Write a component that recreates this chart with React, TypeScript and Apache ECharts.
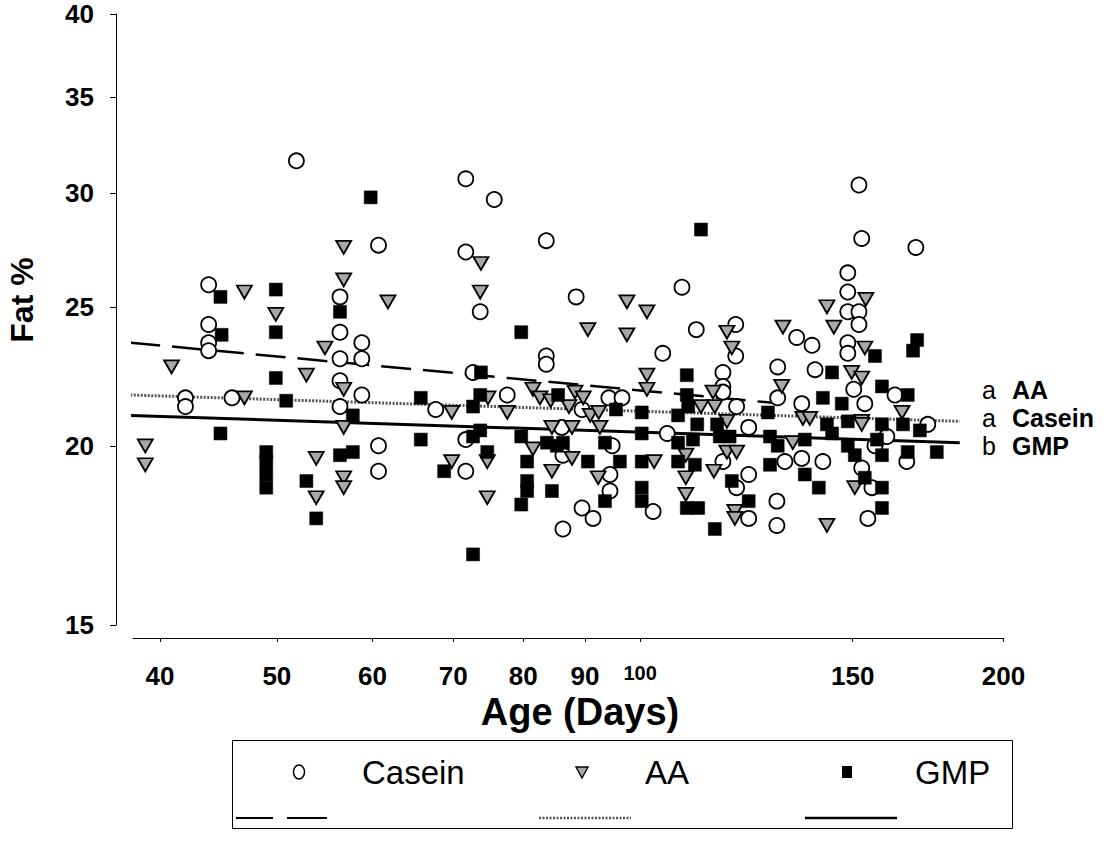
import React, { useEffect, useRef } from "react";
import * as echarts from "echarts";

const xTickLabels = [40, 50, 60, 70, 80, 90, 100, 150, 200];
const yTickLabels = [15, 20, 25, 30, 35, 40];
const xRange = [38, 200];
const yRange = [15, 40];

// [age (days), fat %]
const casein: [number, number][] = [
  [51.9, 31.6], [43.9, 25.9], [43.9, 24.3], [43.9, 23.6], [43.9, 23.3], [56.4, 25.4], [56.4, 24.0], [56.4, 23.0],
  [60.7, 27.6], [58.8, 23.6], [58.8, 23.0], [71.7, 30.7], [75.7, 29.7], [71.7, 27.3], [73.7, 24.8], [83.6, 27.8],
  [83.6, 23.1], [83.6, 22.8], [88.5, 25.4], [108.3, 25.8], [111.3, 24.1], [120.0, 24.3], [104.4, 23.2], [120.0, 23.1],
  [151.8, 30.4], [152.6, 27.9], [169.2, 27.5], [148.6, 26.4], [148.6, 25.6], [148.6, 24.8], [151.8, 24.8], [151.8, 24.3],
  [134.8, 23.8], [138.8, 23.5], [148.6, 23.6], [148.6, 23.2], [56.4, 22.2], [56.4, 21.3], [42.0, 21.6], [42.0, 21.3],
  [45.9, 21.6], [58.8, 21.7], [60.7, 20.0], [60.7, 19.2], [67.7, 21.2], [72.7, 22.5], [77.6, 21.7], [71.7, 20.2],
  [71.7, 19.2], [86.1, 20.6], [86.3, 19.7], [86.3, 17.5], [117.1, 22.5], [117.1, 22.0], [117.1, 21.8], [130.0, 22.7],
  [130.0, 21.6], [94.2, 21.6], [96.6, 21.6], [89.5, 21.2], [120.2, 21.3], [123.0, 20.6], [105.3, 20.4], [94.8, 20.0],
  [94.4, 19.1], [117.1, 19.5], [123.0, 19.1], [120.2, 18.7], [94.4, 18.6], [102.5, 18.0], [123.0, 17.8], [89.5, 18.1],
  [91.4, 17.8], [129.8, 18.3], [129.8, 17.6], [139.6, 22.6], [150.3, 21.9], [162.6, 21.7], [136.1, 21.4], [153.5, 21.4],
  [173.1, 20.7], [160.1, 20.3], [156.5, 20.0], [166.3, 19.5], [136.1, 19.6], [141.7, 19.5], [131.8, 19.5], [152.6, 19.3],
  [155.6, 18.7], [154.4, 17.8],
];

const aa: [number, number][] = [
  [56.8, 27.5], [56.8, 26.1], [47.0, 25.6], [49.9, 24.7], [54.8, 23.4], [61.8, 25.2], [73.8, 26.8], [73.7, 25.6],
  [97.5, 25.2], [101.3, 24.8], [90.5, 24.1], [97.5, 23.9], [118.0, 24.0], [119.1, 23.4], [131.3, 24.2],
  [153.8, 25.3], [142.8, 25.0], [144.7, 24.2], [153.5, 23.4],
  [40.9, 22.7], [52.9, 22.4], [47.0, 21.6], [38.9, 20.0], [38.9, 19.4], [53.9, 19.6], [53.9, 18.4], [56.8, 19.0], [56.8, 18.7],
  [56.8, 21.9], [56.8, 20.6], [69.8, 21.1], [74.8, 21.6], [77.6, 21.1], [74.7, 19.5], [69.8, 19.5], [74.7, 18.4],
  [81.5, 21.9], [82.6, 21.6], [84.3, 21.5], [84.5, 20.6], [81.5, 19.9], [84.5, 19.2],
  [101.3, 22.4], [101.3, 21.9], [114.9, 21.8], [131.0, 22.0], [88.3, 21.8], [89.7, 21.6], [87.3, 21.3], [90.9, 21.0],
  [92.4, 21.1], [112.3, 21.3], [115.3, 21.3], [118.0, 20.8], [92.6, 20.6], [87.8, 20.6], [87.8, 19.6], [109.1, 19.7],
  [102.7, 19.5], [118.0, 19.8], [120.2, 19.8], [115.1, 19.2], [92.3, 19.0], [109.1, 19.0], [109.1, 18.5], [119.8, 18.0],
  [119.8, 17.8], [149.7, 22.5], [152.6, 22.3], [136.4, 20.9], [138.2, 20.9], [152.6, 20.8], [152.6, 20.7], [164.8, 21.1],
  [133.8, 20.1], [150.6, 18.7], [142.8, 17.6],
];

const gmp: [number, number][] = [
  [59.8, 29.8], [112.3, 28.3], [44.9, 25.4], [49.9, 25.7], [49.9, 24.0], [45.0, 23.9], [56.4, 24.8], [79.7, 24.0],
  [169.6, 23.7], [168.3, 23.3], [156.5, 23.1], [49.9, 22.3], [50.9, 21.5], [44.9, 20.4], [49.0, 19.8], [49.0, 19.5],
  [49.0, 19.1], [49.0, 18.7], [56.4, 19.7], [52.9, 18.9], [53.9, 17.8], [57.8, 21.0], [57.8, 19.8], [65.8, 21.6],
  [65.8, 20.2], [73.8, 22.5], [73.7, 21.7], [72.7, 21.3], [73.7, 20.5], [72.7, 20.3], [74.7, 19.8], [68.8, 19.2],
  [72.7, 16.8], [85.5, 21.7], [79.7, 20.3], [80.6, 19.5], [80.6, 18.9], [80.6, 18.6], [79.7, 18.2], [83.7, 20.1],
  [85.3, 20.0], [84.5, 18.6], [109.3, 22.4], [109.3, 21.7], [95.5, 21.2], [100.3, 21.1], [107.5, 21.0], [109.6, 21.3],
  [111.5, 20.7], [115.8, 20.7], [116.4, 20.3], [118.6, 20.3], [127.6, 21.1], [128.1, 20.3], [130.0, 20.0], [100.3, 20.4],
  [86.3, 20.1], [93.5, 20.1], [107.5, 20.1], [110.6, 20.2], [107.5, 19.5], [111.0, 19.4], [90.5, 19.5], [96.2, 19.5],
  [100.3, 19.5], [119.1, 18.9], [93.5, 18.3], [100.3, 18.7], [100.3, 18.3], [109.3, 18.1], [111.7, 18.1], [123.0, 18.3],
  [115.3, 17.5], [128.1, 19.4], [144.2, 22.5], [158.6, 22.0], [166.6, 21.7], [141.7, 21.6], [146.9, 21.4], [142.8, 20.7],
  [148.6, 20.8], [158.6, 20.7], [165.1, 20.7], [170.5, 20.5], [136.9, 20.2], [144.2, 20.4], [148.6, 20.0], [150.6, 19.7],
  [157.1, 20.2], [158.6, 19.7], [166.6, 19.8], [176.1, 19.8], [136.9, 19.1], [140.6, 18.7], [153.5, 19.0], [158.6, 18.7],
  [158.6, 18.1],
];

// regression lines: [age, fat] endpoints
const caseinTrend: [number, number][] = [[37.8, 23.6], [131.0, 21.4]];
const aaTrend: [number, number][] = [[37.8, 21.7], [184.0, 20.8]];
const gmpTrend: [number, number][] = [[37.8, 21.0], [184.0, 20.1]];

const sideLabels = [
  { letter: "a", name: "AA" },
  { letter: "a", name: "Casein" },
  { letter: "b", name: "GMP" },
];

const L = Math.log10;
const toLog = (pts: [number, number][]) => pts.map(([a, f]) => [L(a), L(f)]);
const FONT = "'Liberation Sans', Arial, sans-serif";

export default function App() {
  const ref = useRef<HTMLDivElement>(null);
  useEffect(() => {
    if (!ref.current) return;
    const chart = echarts.init(ref.current, undefined, { renderer: "svg" });
    const sideY = [390, 418, 446];
    const option: any = {
      animation: false,
      backgroundColor: "#ffffff",
      grid: { left: 133, right: 106.5, top: 14, bottom: 219, containLabel: false },
      xAxis: {
        type: "value",
        min: L(xRange[0]),
        max: L(xRange[1]),
        offset: 13,
        axisLine: { show: true, lineStyle: { color: "#000", width: 1 } },
        axisTick: { show: true, customValues: xTickLabels.map(L), length: 4, lineStyle: { color: "#000" } },
        axisLabel: {
          customValues: xTickLabels.map(L),
          formatter: (v: number) => {
            const n = Math.round(Math.pow(10, v));
            return n === 100 ? `{s|${n}}` : String(n);
          },
          rich: { s: { fontFamily: FONT, fontWeight: "bold", fontSize: 20, color: "#000" } },
          fontFamily: FONT,
          fontWeight: "bold",
          fontSize: 26,
          color: "#000",
          margin: 25,
        },
        splitLine: { show: false },
      },
      yAxis: {
        type: "value",
        min: L(yRange[0]),
        max: L(yRange[1]),
        offset: 17,
        axisLine: { show: true, lineStyle: { color: "#000", width: 1 } },
        axisTick: { show: true, customValues: yTickLabels.map(L), length: 6, lineStyle: { color: "#000" } },
        axisLabel: {
          customValues: yTickLabels.map(L),
          formatter: (v: number) => String(Math.round(Math.pow(10, v))),
          fontFamily: FONT,
          fontWeight: "bold",
          fontSize: 26,
          color: "#000",
          margin: 22,
        },
        splitLine: { show: false },
      },
      series: [
        {
          type: "line", data: toLog(caseinTrend), symbol: "none", z: 1,
          lineStyle: { color: "#000", width: 2.5, type: [30, 12] },
        },
        {
          type: "line", data: toLog(aaTrend), symbol: "none", z: 1,
          lineStyle: { color: "#555", width: 3, type: [2, 1.5] },
        },
        {
          type: "line", data: toLog(gmpTrend), symbol: "none", z: 1,
          lineStyle: { color: "#000", width: 3 },
        },
        {
          type: "scatter", data: toLog(casein), symbol: "circle", symbolSize: 15, z: 2,
          itemStyle: { color: "#fff", borderColor: "#000", borderWidth: 1.8, opacity: 1 },
        },
        {
          type: "scatter", data: toLog(aa), symbol: "triangle", symbolRotate: 180, symbolSize: [15, 13], z: 3,
          itemStyle: { color: "#a8a8a8", borderColor: "#000", borderWidth: 1.8, opacity: 1 },
        },
        {
          type: "scatter", data: toLog(gmp), symbol: "rect", symbolSize: 13, z: 4,
          itemStyle: { color: "#000", borderColor: "#000", borderWidth: 0.5, opacity: 1 },
        },
      ],
      graphic: [
        {
          type: "text", x: 22, y: 300, rotation: Math.PI / 2,
          style: { text: "Fat %", font: `bold 32px ${FONT}`, fill: "#000", align: "center", verticalAlign: "middle" },
        },
        {
          type: "text", x: 580, y: 712,
          style: { text: "Age (Days)", font: `bold 38px ${FONT}`, fill: "#000", align: "center", verticalAlign: "middle" },
        },
        ...sideLabels.flatMap((s, i) => [
          {
            type: "text", x: 982, y: sideY[i],
            style: { text: s.letter, font: `25px ${FONT}`, fill: "#000", align: "left", verticalAlign: "middle" },
          },
          {
            type: "text", x: 1012, y: sideY[i],
            style: { text: s.name, font: `bold 25px ${FONT}`, fill: "#000", align: "left", verticalAlign: "middle" },
          },
        ]),
        // legend box
        {
          type: "rect", shape: { x: 232.5, y: 740.5, width: 780, height: 88 },
          style: { fill: "none", stroke: "#000", lineWidth: 1 },
        },
        { type: "ellipse", shape: { cx: 299, cy: 772, rx: 5.5, ry: 7 }, style: { fill: "#fff", stroke: "#000", lineWidth: 1.5 } },
        { type: "text", x: 362, y: 772, style: { text: "Casein", font: `33px ${FONT}`, fill: "#000", verticalAlign: "middle" } },
        {
          type: "polygon", shape: { points: [[576, 767], [588, 767], [582, 778]] },
          style: { fill: "#a8a8a8", stroke: "#000", lineWidth: 1.4 },
        },
        { type: "text", x: 645, y: 772, style: { text: "AA", font: `33px ${FONT}`, fill: "#000", verticalAlign: "middle" } },
        { type: "rect", shape: { x: 842, y: 766, width: 10, height: 12 }, style: { fill: "#000" } },
        { type: "text", x: 915, y: 772, style: { text: "GMP", font: `33px ${FONT}`, fill: "#000", verticalAlign: "middle" } },
        { type: "line", shape: { x1: 236, y1: 818, x2: 273, y2: 818 }, style: { stroke: "#000", lineWidth: 2 } },
        { type: "line", shape: { x1: 287, y1: 818, x2: 327, y2: 818 }, style: { stroke: "#000", lineWidth: 2 } },
        { type: "line", shape: { x1: 539, y1: 818, x2: 631, y2: 818 }, style: { stroke: "#555", lineWidth: 2.5, lineDash: [2, 1.5] } },
        { type: "line", shape: { x1: 805, y1: 818, x2: 897, y2: 818 }, style: { stroke: "#000", lineWidth: 2.5 } },
      ],
    };
    chart.setOption(option);
    return () => chart.dispose();
  }, []);
  return (
    <div
      ref={ref}
      style={{ position: "absolute", left: 0, top: 0, width: 1110, height: 844, background: "#fff" }}
    />
  );
}
